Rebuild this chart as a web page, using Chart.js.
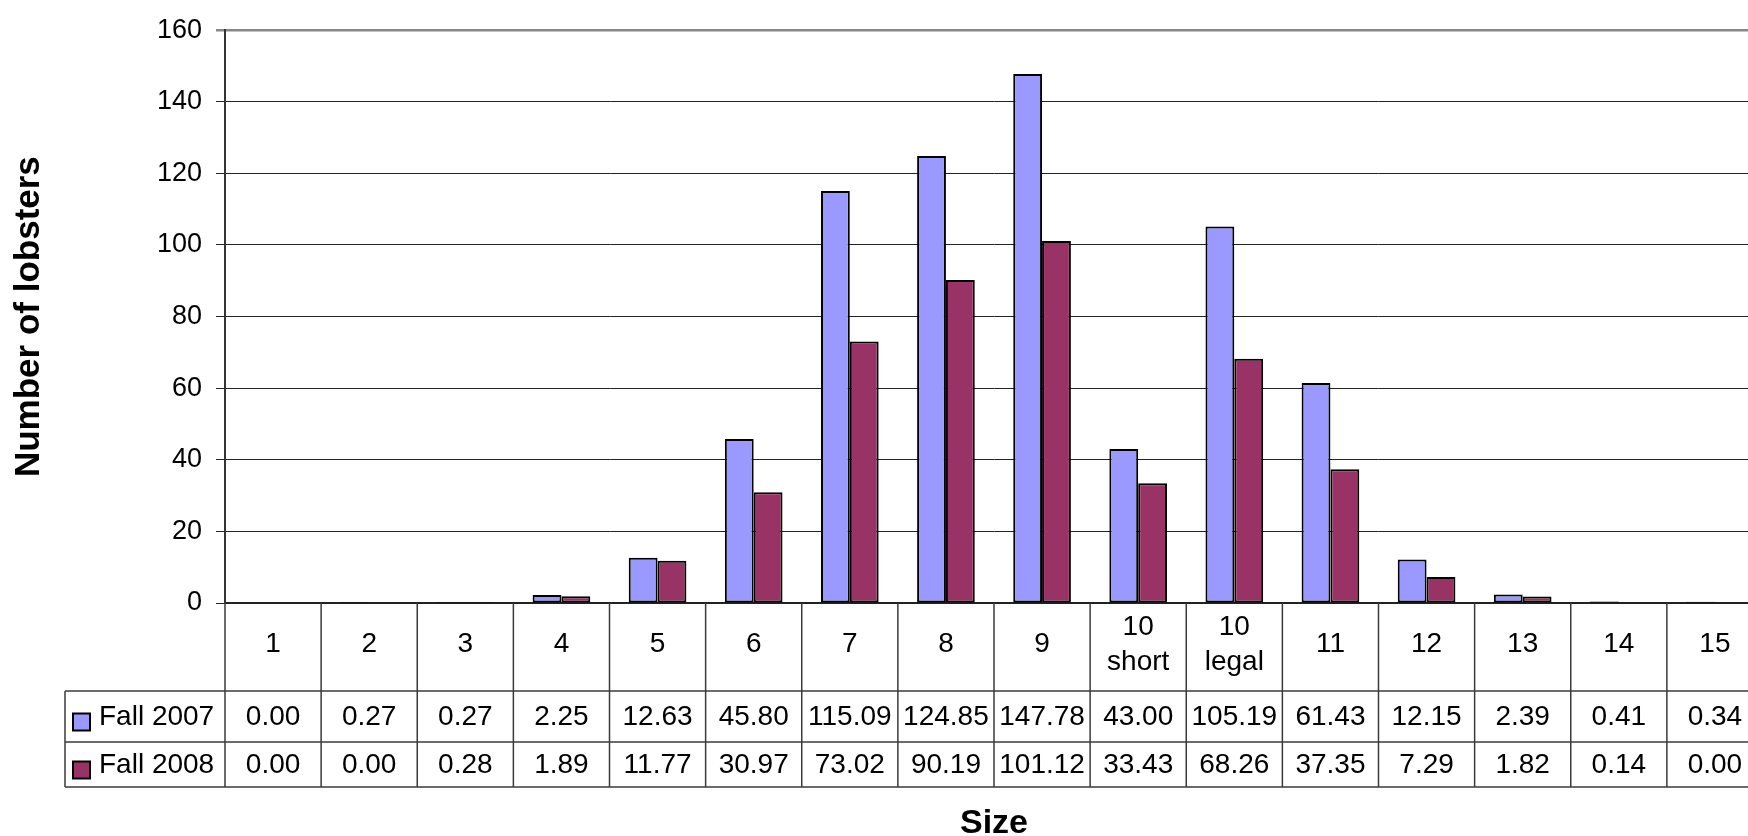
<!DOCTYPE html>
<html>
<head>
<meta charset="utf-8">
<script src="https://cdn.jsdelivr.net/npm/chart.js@4/dist/chart.umd.min.js"></script>
<style>
    html, body { margin: 0; padding: 0; background: #fff; overflow: hidden; }
    #box { width: 1770px; height: 836px; }
</style>
</head>
<body>
<div id="box"><canvas id="lobsters" width="1770" height="836"></canvas></div>
<script>
// size classes (x categories)
const sizes = ['1', '2', '3', '4', '5', '6', '7', '8', '9', ['10', 'short'], ['10', 'legal'], '11', '12', '13', '14', '15'];
const seriesNames = ['Fall 2007', 'Fall 2008'];
const fall2007 = [0.00, 0.27, 0.27, 2.25, 12.63, 45.80, 115.09, 124.85, 147.78, 43.00, 105.19, 61.43, 12.15, 2.39, 0.41, 0.34];
const fall2008 = [0.00, 0.00, 0.28, 1.89, 11.77, 30.97, 73.02, 90.19, 101.12, 33.43, 68.26, 37.35, 7.29, 1.82, 0.14, 0.00];
const yMax = 160;
const yStep = 20;
const colors = ['#9999FF', '#993366'];

const FONT = '"Liberation Sans", Arial, sans-serif';

// data table under the plot (Excel style)
const dataTable = {
    id: 'dataTable',
    afterDraw(chart) {
        const { ctx, chartArea: a, scales: { x } } = chart;
        const colW = (a.right - a.left) / sizes.length;
        const headBot = a.bottom + 88;
        const rowMid = headBot + 51;
        const rowBot = rowMid + 45;
        const legLeft = 65;
        const line = (x1, y1, x2, y2) => {
            ctx.beginPath();
            ctx.moveTo(x1, y1);
            ctx.lineTo(x2, y2);
            ctx.stroke();
        };
        ctx.save();
        ctx.strokeStyle = '#3a3a3a';
        ctx.lineWidth = 1.5;
        line(legLeft, headBot, chart.width, headBot);
        line(legLeft, rowMid, chart.width, rowMid);
        line(legLeft, rowBot, chart.width, rowBot);
        line(legLeft, headBot, legLeft, rowBot);
        for (let i = 0; i <= sizes.length; i++) {
            const px = a.left + i * colW;
            line(px, a.bottom, px, rowBot);
        }

        // values
        ctx.fillStyle = '#000';
        ctx.font = '28px ' + FONT;
        ctx.textAlign = 'center';
        ctx.textBaseline = 'middle';
        const rowY = [(headBot + rowMid) / 2 + 1, (rowMid + rowBot) / 2 + 1];
        const rows = [fall2007, fall2008];
        rows.forEach((arr, r) => {
            arr.forEach((v, i) => {
                ctx.fillText(v.toFixed(2), x.getPixelForValue(i), rowY[r]);
            });
        });

        // legend keys
        ctx.textAlign = 'left';
        seriesNames.forEach((name, r) => {
            ctx.fillStyle = colors[r];
            ctx.fillRect(73, rowY[r] - 4, 17, 17);
            ctx.lineWidth = 2;
            ctx.strokeStyle = '#000';
            ctx.strokeRect(73, rowY[r] - 4, 17, 17);
            ctx.fillStyle = '#000';
            ctx.fillText(name, 99, rowY[r]);
        });
        ctx.restore();
    }
};

const chart = new Chart(document.getElementById('lobsters'), {
    type: 'bar',
    data: {
        labels: sizes,
        datasets: [{
            label: seriesNames[0],
            data: fall2007,
            backgroundColor: colors[0],
            borderColor: '#000',
            borderWidth: 2,
            borderSkipped: false
        }, {
            label: seriesNames[1],
            data: fall2008,
            backgroundColor: colors[1],
            borderColor: '#000',
            borderWidth: 2,
            borderSkipped: false
        }]
    },
    options: {
        responsive: false,
        animation: false,
        datasets: { bar: { barPercentage: 1.0, categoryPercentage: 0.6 } },
        layout: { padding: { top: 25, right: 7, left: 0, bottom: 0 } },
        plugins: { legend: { display: false }, tooltip: { enabled: false } },
        scales: {
            x: {
                grid: { drawOnChartArea: false, drawTicks: false },
                border: { color: '#222', width: 1.5 },
                ticks: {
                    autoSkip: false,
                    maxRotation: 0,
                    crossAlign: 'center',
                    padding: 24,
                    color: '#000',
                    font: { family: FONT, size: 28, lineHeight: 1.25 }
                },
                title: {
                    display: true,
                    text: 'Size',
                    color: '#000',
                    padding: 0,
                    font: { family: FONT, size: 34, weight: 'bold', lineHeight: 0.75 }
                },
                afterFit: s => { s.height = 233; }
            },
            y: {
                min: 0,
                max: yMax,
                ticks: {
                    stepSize: yStep,
                    padding: 14,
                    color: '#000',
                    font: { family: FONT, size: 27 }
                },
                grid: {
                    color: c => c.tick && c.tick.value === yMax ? '#888' : '#222',
                    lineWidth: c => c.tick && c.tick.value === yMax ? 2.5 : 1,
                    tickLength: 9
                },
                border: { color: '#333', width: 2 },
                title: {
                    display: true,
                    text: 'Number of lobsters',
                    color: '#000',
                    padding: { top: 8, bottom: 0 },
                    font: { family: FONT, size: 35, weight: 'bold' }
                },
                afterFit: s => { s.width = 225; }
            }
        }
    },
    plugins: [dataTable]
});
</script>
</body>
</html>
